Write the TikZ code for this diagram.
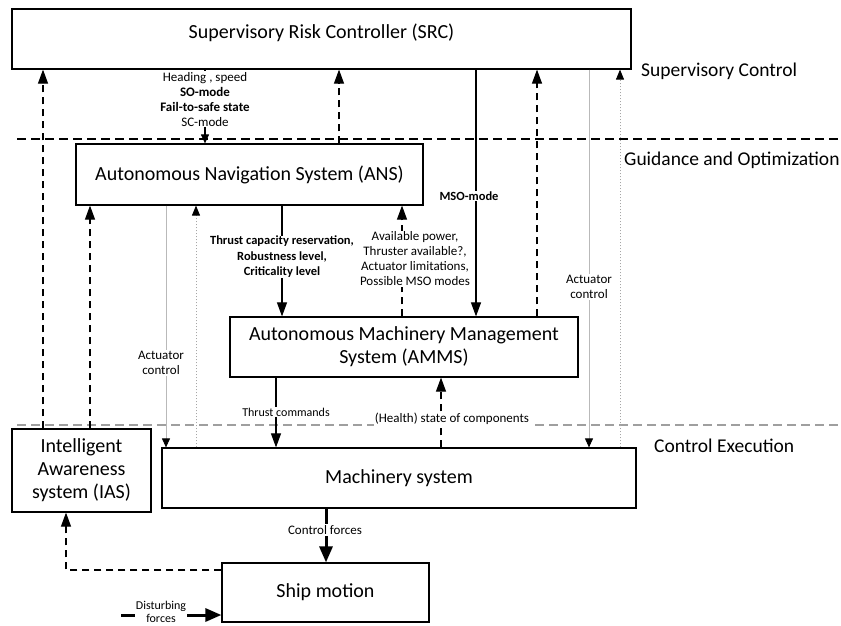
\documentclass[tikz,border=0pt]{standalone}
\usepackage{fontspec}
\setmainfont{Carlito}
\usetikzlibrary{arrows.meta}
\begin{document}
\begin{tikzpicture}[x=1pt,y=-1pt,
  box/.style={draw, line width=1.2pt, inner sep=0pt, align=center, font=\fontsize{20}{23}\selectfont},
  lab/.style={align=center, inner sep=1pt, font=\fontsize{13}{15}\selectfont},
  blab/.style={lab, inner sep=0.5pt, font=\fontsize{12.5}{15.5}\selectfont\bfseries},
  layer/.style={anchor=west, inner sep=0pt, font=\fontsize{19.5}{22}\selectfont},
  arr/.style={line width=1.1pt, -{Triangle[length=14pt,width=10pt]}},
  sarr/.style={line width=1.1pt, -{Triangle[length=9pt,width=8pt]}},
  dsh/.style={dash pattern=on 7pt off 5pt},
  gline/.style={draw=gray!55, line width=0.9pt, -{Triangle[length=9pt,width=8pt,color=black]}},
  dline/.style={draw=gray!70, line width=0.9pt, dash pattern=on 1.5pt off 1.5pt, -{Triangle[length=10pt,width=8pt,color=black]}},
  thick arrow/.style={line width=3pt, -{Triangle[length=16pt,width=13pt]}}
]
\useasboundingbox (0,0) rectangle (841,626);

% layer separators
\coordinate (l1a) at (17,139); \coordinate (l1b) at (841,139);
\coordinate (l2a) at (17,425); \coordinate (l2b) at (841,425);
\draw[line width=1.2pt, dash pattern=on 9pt off 5pt] (l1a) -- (l1b);
\draw[line width=1.2pt, draw=gray!75, dash pattern=on 9pt off 5pt] (l2a) -- (l2b);

\node[layer] (lsc) at (641,71) {Supervisory Control};
\node[layer] (lgo) at (624,160) {Guidance and Optimization};
\node[layer] (lce) at (654,446) {Control Execution};

% boxes
\node[box, minimum width=619pt, minimum height=60pt, text height=12pt, text depth=12pt] (src) at (321.5,39) {Supervisory Risk Controller (SRC)};
\node[box, minimum width=347pt, minimum height=61pt] (ans) at (249.5,174.5) {Autonomous Navigation System (ANS)};
\node[box, minimum width=348pt, minimum height=60pt] (amms) at (404,347) {Autonomous Machinery Management\\System (AMMS)};
\node[box, minimum width=139pt, minimum height=83pt] (ias) at (81.5,470.5) {Intelligent\\Awareness\\system (IAS)};
\node[box, minimum width=474pt, minimum height=60pt] (mach) at (399,478) {Machinery system};
\node[box, minimum width=207pt, minimum height=59pt] (ship) at (325.5,592.5) {Ship motion};

% column coordinates
\coordinate (c1) at (43,0);
\coordinate (c2) at (90,0);
\coordinate (c3) at (166,0);
\coordinate (c4) at (196,0);
\coordinate (c5) at (205,0);
\coordinate (c6) at (282,0);
\coordinate (c7) at (339,0);
\coordinate (c8) at (402,0);
\coordinate (c9) at (441,0);
\coordinate (c10) at (476,0);
\coordinate (c11) at (537,0);
\coordinate (c12) at (589,0);
\coordinate (c13) at (620,0);
\coordinate (c14) at (276,0);
\coordinate (c15) at (326,0);

% IAS up to SRC and ANS
\draw[arr, dsh] (ias.north -| c1) -- (src.south -| c1);
\draw[arr, dsh] (ias.north -| c2) -- (ans.south -| c2);

% SRC -> ANS
\draw[sarr] (src.south -| c5) -- (ans.north -| c5)
  node[lab, fill=white, pos=0.4] (hd) {Heading , speed\\\textbf{SO-mode}\\\textbf{Fail-to-safe state}\\SC-mode};
% ANS -> SRC
\draw[arr, dsh] (ans.north -| c7) -- (src.south -| c7);

% ANS -> Machinery (actuator control)
\draw[gline] (ans.south -| c3) -- (mach.north -| c3);
\node[lab, fill=white] (ac1) at (161,363) {Actuator\\control};
% Machinery -> ANS dotted
\draw[dline] (mach.north -| c4) -- (ans.south -| c4);

% AMMS -> ANS
\draw[arr, dsh] (amms.north -| c8) -- (ans.south -| c8);
\node[lab, inner sep=0.5pt, fill=white] (avp) at (415,259) {Available power,\\Thruster available?,\\Actuator limitations,\\Possible MSO modes};
% ANS -> AMMS
\draw[arr] (ans.south -| c6) -- (amms.north -| c6);
\node[blab, fill=white] (tcr) at (282,257) {Thrust capacity reservation,\\Robustness level,\\Criticality level};

% SRC -> AMMS (MSO-mode)
\draw[arr] (src.south -| c10) -- (amms.north -| c10);
\node[blab, fill=white] (mso) at (469,196) {MSO-mode};
% AMMS -> SRC
\draw[arr, dsh] (amms.north -| c11) -- (src.south -| c11);

% SRC -> Machinery (actuator control)
\draw[gline] (src.south -| c12) -- (mach.north -| c12);
\node[lab, fill=white] (ac2) at (589,287) {Actuator\\control};
% Machinery -> SRC dotted
\draw[dline] (mach.north -| c13) -- (src.south -| c13);

% AMMS -> Machinery
\draw[arr] (amms.south -| c14) -- (mach.north -| c14);
\node[lab, fill=white, font=\fontsize{12}{14}\selectfont] (tc) at (286,412) {Thrust commands};
% Machinery -> AMMS
\draw[arr, dsh] (mach.north -| c9) -- (amms.south -| c9);
\node[lab, fill=white] (hs) at (452,419) {(Health) state of components};

% Machinery -> Ship motion
\draw[thick arrow] (mach.south -| c15) -- (ship.north -| c15);
\node[lab, fill=white] (cf) at (325,530) {Control forces};

% Ship motion -> IAS
\coordinate (fb) at (66,570);
\draw[arr, dsh] (ship.west |- fb) -- (fb) -- (ias.south -| fb);

% Disturbing forces
\coordinate (dist) at (121,615);
\draw[thick arrow] (dist) -- (ship.west |- dist);
\node[lab, fill=white, inner sep=0.5pt, font=\fontsize{12}{13}\selectfont] (df) at (161,612) {Disturbing\\forces};
\end{tikzpicture}
\end{document}
